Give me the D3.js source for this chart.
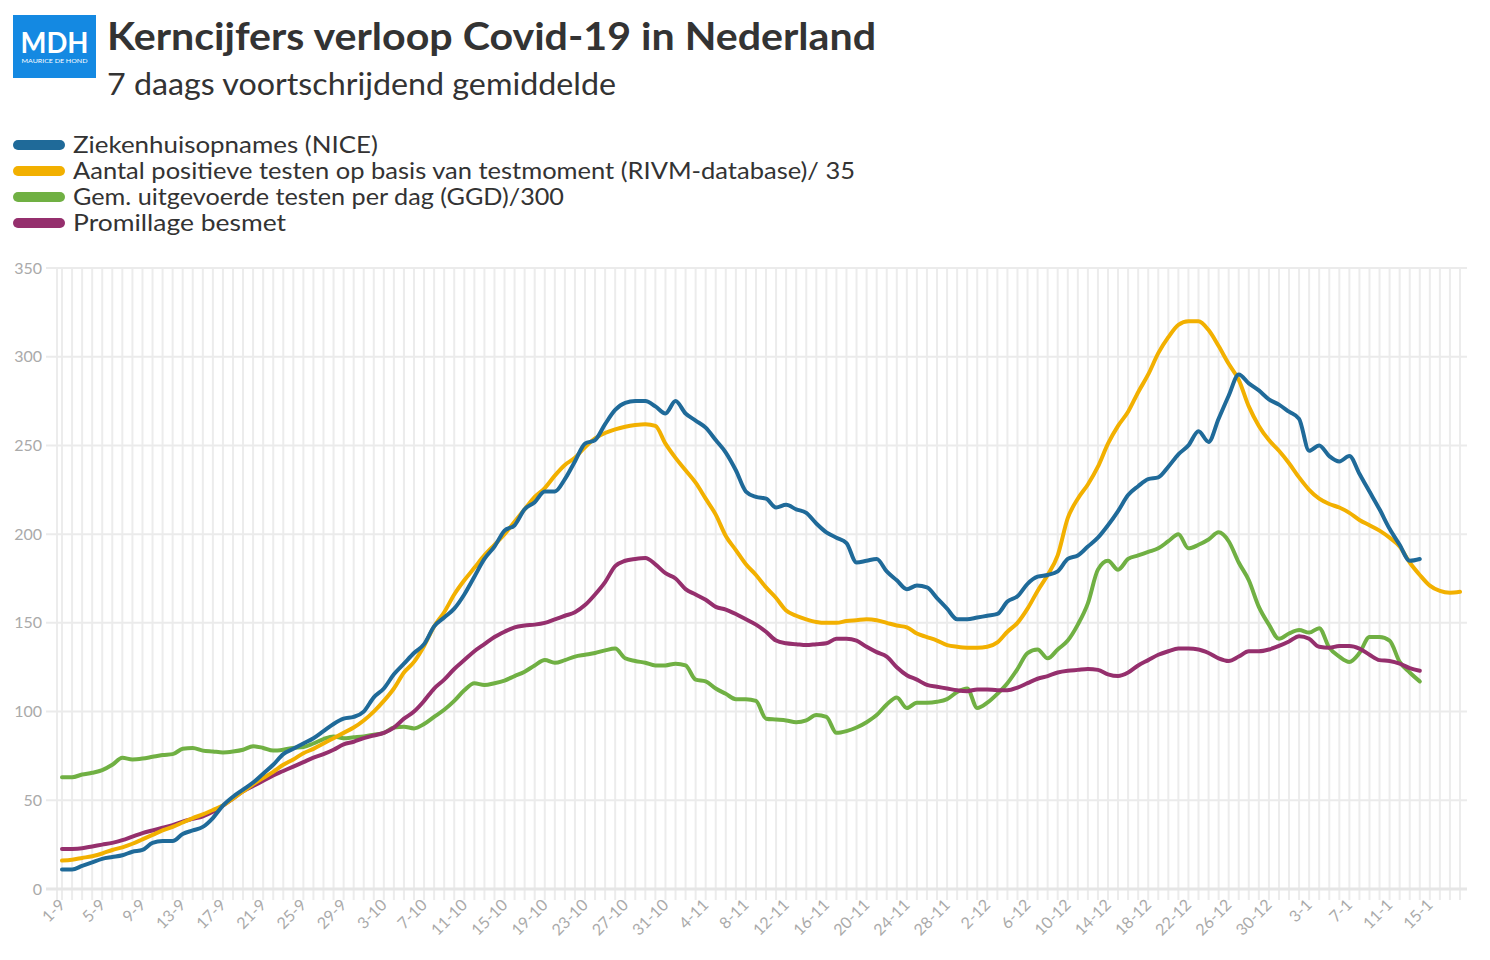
<!DOCTYPE html>
<html><head><meta charset="utf-8">
<script src="https://d3js.org/d3.v7.min.js"></script>
<style>
html,body{margin:0;padding:0;background:#fff;}
svg text{font-family:"Source Sans Pro","Lato","Noto Sans",sans-serif;}
</style></head>
<body><svg id="chart" width="1490" height="960"></svg>
<script>
const title = "Kerncijfers verloop Covid-19 in Nederland";
const subtitle = "7 daags voortschrijdend gemiddelde";
const seriesNames = ["Ziekenhuisopnames (NICE)","Aantal positieve testen op basis van testmoment (RIVM-database)/ 35","Gem. uitgevoerde testen per dag (GGD)/300","Promillage besmet"];
const seriesColors = ["#1f6a99","#f2b000","#70b043","#952f6d"];
const tickLabels = ["1-9","5-9","9-9","13-9","17-9","21-9","25-9","29-9","3-10","7-10","11-10","15-10","19-10","23-10","27-10","31-10","4-11","8-11","12-11","16-11","20-11","24-11","28-11","2-12","6-12","10-12","14-12","18-12","22-12","26-12","30-12","3-1","7-1","11-1","15-1"];
const yTicks = [0,50,100,150,200,250,300,350];
const dayCount = 140;

const ziekenhuis = [11,11,13,15,17,18,19,21,22,26,27,27,31,33,35,40,47,52,56,60,65,70,76,79,82,85,89,93,96,97,100,108,113,121,127,133,138,148,153,158,166,176,186,193,202,205,214,218,224,224,231,241,251,253,262,270,274,275,275,272,268,275,268,264,260,253,246,236,224,221,220,215,216.5,214,212,206,201,198,195,184,185,186,179,174,169,171,170,164,158,152,152,153,154,155,162,165,172,176,177,179,186,188,193,198,205,213,222,227,231,232,238,245,250,258,252,265,278,290,285,281,276,273,269,265,247,250,244,241,244,234,224,214,203,194,185,186];
const positief = [16,16.5,17.5,18.5,20,22,23.5,25.5,28,30.5,33,35,37.5,40,42,44.5,47,51,55,59,62.5,66,70,73,76.5,79,82,85,88,91,95,100,106,113,122,128,137,148,156,166,174,181,188,194,200,207,214,221,226,233,239,243,249,254,257,259,260.5,261.5,262,261,251,243,236,229,220,211,199,191,183,177,170,164,157,154,152,150.5,150,150,151,151.5,152,151.5,150,148.5,147.5,144,142,140,137.5,136.5,136,136,136.5,139,145,150,158,168,177,188,209,220,228,238,251,261,269,280,290,302,311,318,320,320,315,306,296,287,272,261,253,247,240,232,225,220,217,215,212,208,205,202,198,193,184,177,171,168,167,167.5];
const ggdTesten = [63,63,64.5,65.5,67,70,74,73,73.5,74.5,75.5,76,79,79.5,78,77.5,77,77.5,78.5,80.5,79.5,78,78.5,79.5,80,82,84.5,86,85,85.5,86,87,88,91,91.5,90.5,93,97,101,106,112,116,115,116,117.5,120,122.5,126,129,127.5,129,131,132,133,134.5,135.5,130,128.5,127.5,126,126,127,126,118,117,113,110,107,107,106,96,95.5,95,94,95,98,97,88,89,91,94,98,104,108,102,105,105,105.5,107,111,113,102,105,110,116,124,133,135,130,135,140,149,161,180,185,180,186,188,190,192,196,200,192,194,197,201,196,184,174,159,149,141,144,146,144.5,147,136,131,128,133,142,142,140,128,122,117];
const promillage = [22.5,22.6,23,24,25,26,27.5,29.5,31.5,33,34.5,36,38,39.5,41,43.5,47,51,55,58,61,64,66.5,69,71.5,74,76,78.5,81.5,83,85,86.5,88,91,96,100,106,113,118,124,129,134,138,142,145,147.5,148.5,149,150,152,154,156,160,166,173,182,185,186,186.5,183,178,175,169,166,163,159,157.5,155,152,149,145,140,138.5,138,137.5,138,138.5,141,141,140,136.5,133.5,131,125,120.5,118,115,114,113,112,111.5,112.5,112.5,112,112,113.5,116,118.5,120,122,123,123.5,124,123.5,121,120,122,126,129,132,134,135.5,135.5,135,133,130,128.5,131,134,134,135,137,139.5,142.5,141,136.5,136,137,137,135.5,132,129,128.5,127,124.5,123];

const allSeries = [ziekenhuis, positief, ggdTesten, promillage];

const svg = d3.select("#chart");
const x = d3.scaleLinear().domain([0, dayCount-1]).range([62, 1460]);
const y = d3.scaleLinear().domain([0, 350]).range([889, 268]);

// vertical grid (every day)
const gGrid = svg.append("g");
gGrid.selectAll("line.v").data(d3.range(dayCount)).enter().append("line")
  .attr("x1", d=>x(d)).attr("x2", d=>x(d)).attr("y1", 268).attr("y2", 900)
  .attr("stroke", "#ececec").attr("stroke-width", 2);
gGrid.append("line").attr("x1",57).attr("x2",57).attr("y1",268).attr("y2",900)
  .attr("stroke","#ececec").attr("stroke-width",2);
// horizontal grid
gGrid.selectAll("line.h").data(yTicks).enter().append("line")
  .attr("x1", 46).attr("x2", 1467).attr("y1", d=>y(d)).attr("y2", d=>y(d))
  .attr("stroke", d=> d===0 ? "#e6e6e6" : "#ebebeb").attr("stroke-width", d=> d===0 ? 3 : 2);

// y labels
svg.append("g").selectAll("text").data(yTicks).enter().append("text")
  .attr("x", 42).attr("y", d=>y(d)).attr("dy","0.35em").attr("text-anchor","end")
  .attr("fill","#aaaaaa").attr("font-size",16).text(d=>d);

// x labels
svg.append("g").selectAll("text").data(tickLabels).enter().append("text")
  .attr("transform",(d,i)=>`translate(${x(i*4)+4},${906}) rotate(-45)`)
  .attr("text-anchor","end").attr("fill","#aaaaaa").attr("font-size",16).text(d=>d);

// lines (blue on top)
const line = d3.line().x((d,i)=>x(i)).y(d=>y(d)).curve(d3.curveMonotoneX);
[2,3,1,0].forEach(k=>{
  svg.append("path").datum(allSeries[k]).attr("d", line).attr("fill","none")
    .attr("stroke", seriesColors[k]).attr("stroke-width", 4)
    .attr("stroke-linejoin","round").attr("stroke-linecap","round");
});

// header logo
svg.append("rect").attr("x",13).attr("y",15).attr("width",83).attr("height",63).attr("fill","#1489e2");
svg.append("text").attr("x",54.5).attr("y",53).attr("text-anchor","middle").attr("fill","#fff")
  .attr("font-size",28).attr("font-weight","bold").attr("textLength",68).attr("lengthAdjust","spacingAndGlyphs").text("MDH");
svg.append("text").attr("x",54.5).attr("y",63).attr("text-anchor","middle").attr("fill","#fff")
  .attr("font-size",6.5).attr("textLength",66).attr("lengthAdjust","spacingAndGlyphs").text("MAURICE DE HOND");

svg.append("text").attr("x",107).attr("y",50).attr("fill","#333333").attr("font-size",38).attr("font-weight","bold")
  .attr("textLength",769).attr("lengthAdjust","spacingAndGlyphs").text(title);
svg.append("text").attr("x",107).attr("y",95).attr("fill","#333333").attr("font-size",30)
  .attr("textLength",509).attr("lengthAdjust","spacingAndGlyphs").text(subtitle);

// legend
const legWidths = [305, 782, 491, 213];
const leg = svg.append("g");
seriesNames.forEach((n,k)=>{
  const cy = 145 + k*26;
  leg.append("rect").attr("x",13).attr("y",cy-5).attr("width",52).attr("height",10).attr("rx",5)
    .attr("fill",seriesColors[k]);
  leg.append("text").attr("x",73).attr("y",cy+8).attr("fill","#333333").attr("font-size",23)
    .attr("textLength",legWidths[k]).attr("lengthAdjust","spacingAndGlyphs").text(n);
});
</script></body></html>
